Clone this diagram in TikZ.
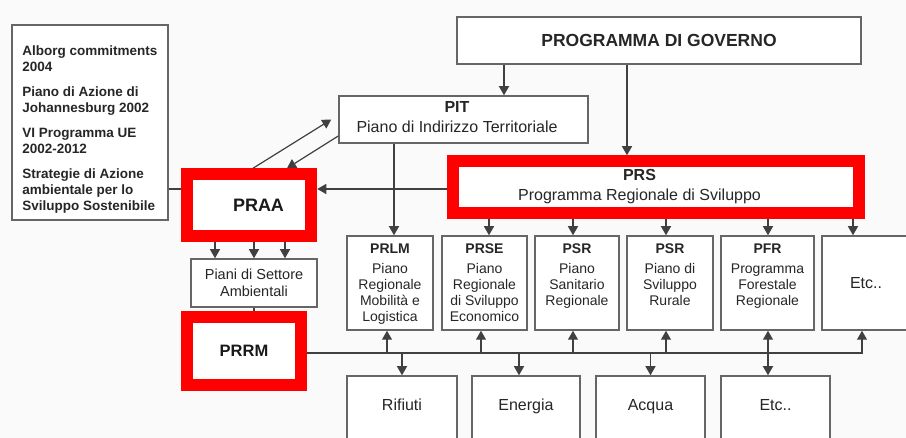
\documentclass[tikz,border=0pt]{standalone}
\usepackage{fontspec}
\setmainfont{Liberation Sans}
\usetikzlibrary{arrows.meta,positioning}

\tikzset{
	box/.style={draw=black!60,line width=1.5pt,fill=white,inner sep=2pt,align=center,text=black!85},
	redbox/.style={draw=red,line width=12pt,fill=white,inner sep=2pt,text=black!90},
	arr/.style={draw=black!75,line width=1.2pt,-{Triangle[length=9pt,width=10pt]}},
	wire/.style={draw=black!75,line width=1.2pt},
	midtext/.style={align=center,inner sep=0pt,text=black!85,font=\fontsize{14}{16}\selectfont},
	bottext/.style={font=\fontsize{16}{18}\selectfont,text height=11.7pt,text depth=8.3pt}
}

\newcommand{\pianobox}[4]
{
	\node[box,#1] at (#2) (#3) {#4}
}

\begin{document}
\begin{tikzpicture}[x=1pt,y=-1pt]
	\path[use as bounding box,fill=black!2] (0,0) rectangle (906,438);
	\clip (0,0) rectangle (906,438);

	%%% Riferimenti esterni
	\pianobox{minimum width=156,minimum height=195}{90,122.5}{impegni}{};
	\node[align=left,inner sep=0pt,text=black!85,font=\bfseries\fontsize{13.5}{16}\selectfont,
		below right=21pt and 11pt of impegni.north west] (impegniT)
		{Alborg commitments\\2004\\[9pt]Piano di Azione di\\Johannesburg 2002\\[9pt]VI Programma UE\\2002-2012\\[9pt]Strategie di Azione\\ambientale per lo\\Sviluppo Sostenibile};

	%%% Livello di governo
	\pianobox{minimum width=404,minimum height=47,font=\bfseries\fontsize{17.5}{20}\selectfont}{659,40.5}{gov}{PROGRAMMA DI GOVERNO};
	\pianobox{minimum width=249,minimum height=47}{463.5,119.5}{pit}{};
	\node[align=center,text=black!85,font=\fontsize{16}{20}\selectfont] (pitT) at ([xshift=-6.5,yshift=2]pit.center)
		{\textbf{PIT}\\Piano di Indirizzo Territoriale};
	\node[redbox,minimum width=405.5,minimum height=51.5] at (656,187) (prs) {};
	\node[align=center,text=black!85,font=\fontsize{16}{20}\selectfont] (prsT) at ([xshift=-16.5]prs.center)
		{\textbf{PRS}\\Programma Regionale di Sviluppo};

	%%% Piani ambientali
	\node[redbox,minimum width=124.5,minimum height=61.5] at (249,205) (praa) {};
	\node[text=black!90,font=\bfseries\fontsize{18}{20}\selectfont] (praaT) at ([xshift=9.5]praa.center) {PRAA};
	\pianobox{minimum width=126,minimum height=48,font=\fontsize{14.5}{17}\selectfont}{254,283}{piani}{Piani di Settore\\Ambientali};
	\node[redbox,minimum width=113.5,minimum height=67.5,font=\bfseries\fontsize{16.5}{20}\selectfont] at (244,351) (prrm) {PRRM};

	%%% Piani di settore
	\pianobox{minimum width=86,minimum height=94}{390,283}{prlm}{};
	\pianobox{minimum width=85,minimum height=94}{484.5,283}{prse}{};
	\pianobox{minimum width=84,minimum height=94}{577,283}{psrsan}{};
	\pianobox{minimum width=86,minimum height=94}{670,283}{psrrur}{};
	\pianobox{minimum width=93,minimum height=94}{767.5,283}{pfr}{};
	\pianobox{minimum width=88,minimum height=94,font=\fontsize{16}{18}\selectfont}{866,283}{etcmid}{Etc..};
	\node[midtext,below=8pt of prlm.north] (prlmT) {\textbf{PRLM}\\[4pt]Piano\\Regionale\\Mobilità e\\Logistica};
	\node[midtext,below=8pt of prse.north] (prseT) {\textbf{PRSE}\\[4pt]Piano\\Regionale\\di Sviluppo\\Economico};
	\node[midtext,below=8pt of psrsan.north] (psrsanT) {\textbf{PSR}\\[4pt]Piano\\Sanitario\\Regionale};
	\node[midtext,below=8pt of psrrur.north] (psrrurT) {\textbf{PSR}\\[4pt]Piano di\\Sviluppo\\Rurale};
	\node[midtext,below=8pt of pfr.north] (pfrT) {\textbf{PFR}\\[4pt]Programma\\Forestale\\Regionale};

	%%% Risorse
	\pianobox{minimum width=110,minimum height=66,bottext}{402,409}{rifiuti}{Rifiuti};
	\pianobox{minimum width=108,minimum height=66,bottext}{526,409}{energia}{Energia};
	\pianobox{minimum width=109,minimum height=66,bottext}{650.5,409}{acqua}{Acqua};
	\pianobox{minimum width=109,minimum height=66,bottext}{775.5,409}{etcbot}{Etc..};

	%%% Collegamenti
	\draw[arr] ([xshift=40.5]pit.north |- gov.south) -- ([xshift=40.5]pit.north);
	\draw[arr] ([xshift=-29]prs.north |- gov.south) -- ([xshift=-29]prs.north);
	\draw[arr] ([xshift=4]prlm.north |- pit.south) -- ([xshift=4]prlm.north);
	\draw[arr] ([yshift=16]praa.east -| prs.west) -- ([yshift=16]praa.east);
	\draw[wire] ([yshift=16]praa.west -| impegni.east) -- ([yshift=16]praa.west);
	\draw[arr] ([xshift=4]praa.north) -- ([xshift=-7]pit.west);
	\draw[arr] ([yshift=-16.5]pit.west) -- ([xshift=38]praa.north);
	\foreach \dx in {-39,0,31}
		\draw[arr] ([xshift=\dx]piani.north |- praa.south) -- ([xshift=\dx]piani.north);
	\draw[wire] (piani.south) -- (piani.south |- prrm.north);
	\foreach \b/\dx in {prse/4.5,psrsan/-4,psrrur/-4,pfr/0.5,etcmid/-13}
		\draw[arr] ([xshift=\dx]\b.north |- prs.south) -- ([xshift=\dx]\b.north);

	%%% Linea comune PRRM
	\coordinate (bus) at (0,353);
	\draw[arr] (prrm.east |- bus) -| ([xshift=-4]etcmid.south);
	\foreach \b/\dx in {prlm/-3,prse/-3.5,psrsan/-4,psrrur/-4}
		\draw[arr] ([xshift=\dx]\b.south |- bus) -- ([xshift=\dx]\b.south);
	\foreach \b/\dx in {rifiuti/0,energia/-7,acqua/0}
		\draw[arr] ([xshift=\dx]\b.north |- bus) -- ([xshift=\dx]\b.north);
	\draw[arr,{Triangle[length=9pt,width=10pt]}-{Triangle[length=9pt,width=10pt]}] ([xshift=0.5]pfr.south) -- ([xshift=-7.5]etcbot.north);
\end{tikzpicture}
\end{document}
